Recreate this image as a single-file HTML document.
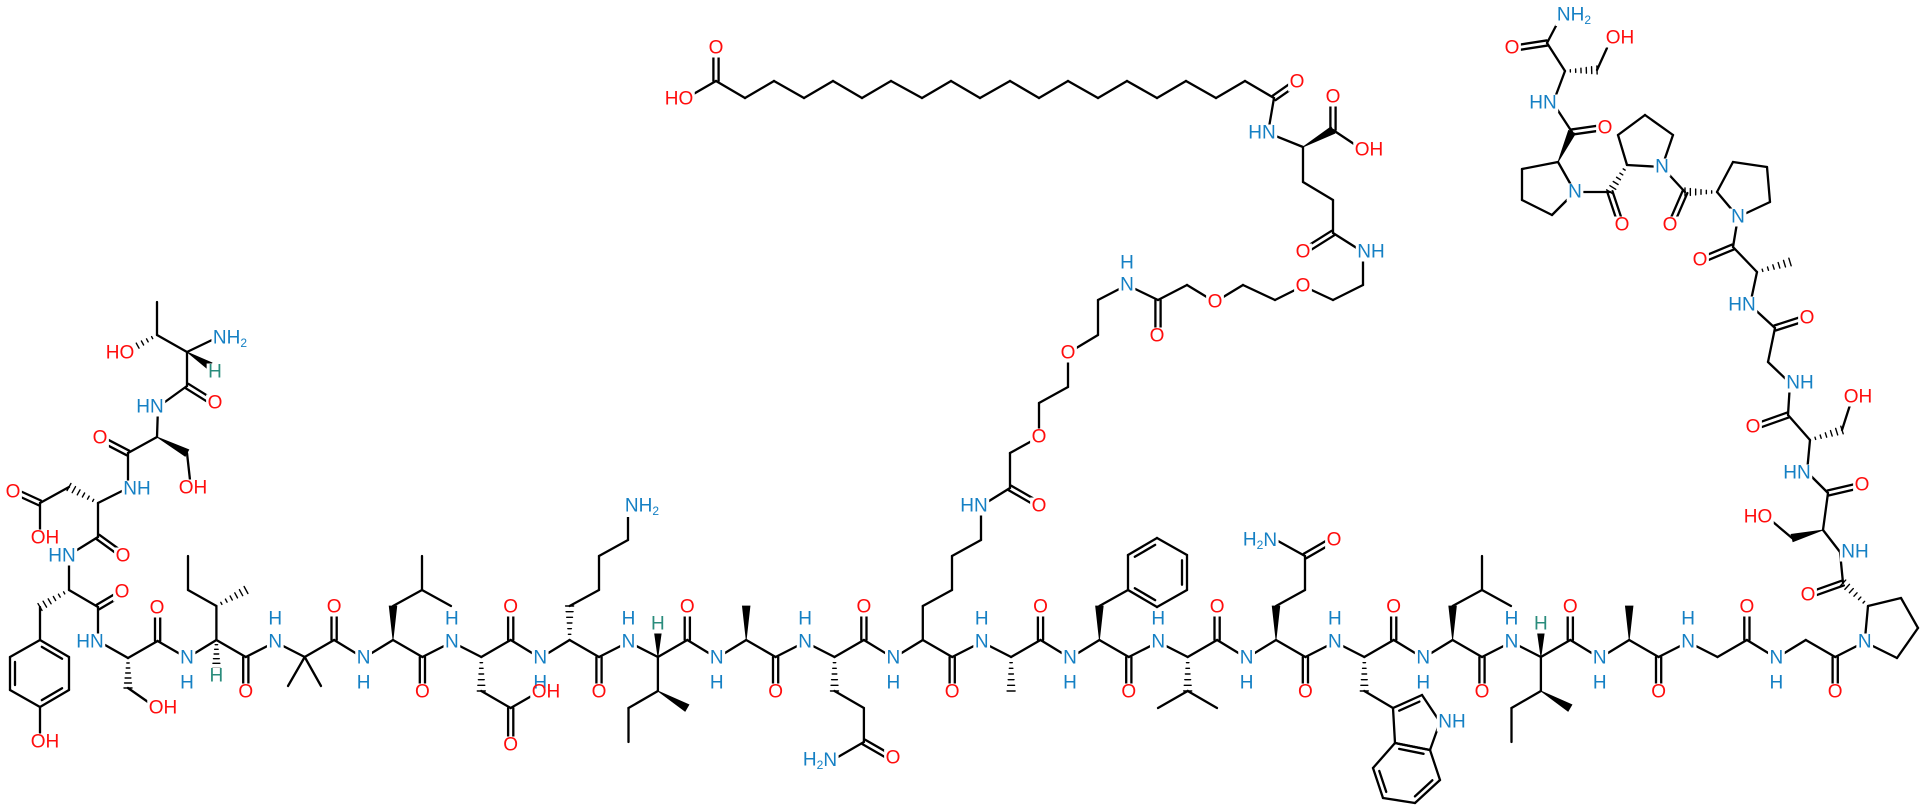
<!DOCTYPE html>
<html><head><meta charset="utf-8">
<style>
html,body{margin:0;padding:0;background:#fff;}
svg{display:block;}
text{font-family:"Liberation Sans",Arial,sans-serif;font-size:19px;text-anchor:middle;dominant-baseline:central;}
.n{fill:#1580c4}.o{fill:#ff0d0d}.h{fill:#2a8c7c}
.s{font-size:12px}
</style></head>
<body>
<svg id="svg" width="1920" height="810" viewBox="0 0 1920 810" xmlns="http://www.w3.org/2000/svg">
<g id="bonds" stroke="#000" stroke-width="2.3" stroke-linecap="round" fill="#000"></g>
<g id="masks" fill="#fff"></g>
<g id="labels">
<text class="n" x="187" y="658">N</text><text class="n" x="187" y="683">H</text>
<text class="n" x="275.3" y="642">N</text><text class="n" x="275.3" y="619">H</text>
<text class="n" x="363.6" y="658">N</text><text class="n" x="363.6" y="683">H</text>
<text class="n" x="451.9" y="642">N</text><text class="n" x="451.9" y="619">H</text>
<text class="n" x="540.2" y="658">N</text><text class="n" x="540.2" y="683">H</text>
<text class="n" x="628.5" y="642">N</text><text class="n" x="628.5" y="619">H</text>
<text class="n" x="716.8" y="658">N</text><text class="n" x="716.8" y="683">H</text>
<text class="n" x="805.1" y="642">N</text><text class="n" x="805.1" y="619">H</text>
<text class="n" x="893.4" y="658">N</text><text class="n" x="893.4" y="683">H</text>
<text class="n" x="981.7" y="642">N</text><text class="n" x="981.7" y="619">H</text>
<text class="n" x="1070" y="658">N</text><text class="n" x="1070" y="683">H</text>
<text class="n" x="1158.3" y="642">N</text><text class="n" x="1158.3" y="619">H</text>
<text class="n" x="1246.6" y="658">N</text><text class="n" x="1246.6" y="683">H</text>
<text class="n" x="1334.9" y="642">N</text><text class="n" x="1334.9" y="619">H</text>
<text class="n" x="1423.2" y="658">N</text><text class="n" x="1423.2" y="683">H</text>
<text class="n" x="1511.5" y="642">N</text><text class="n" x="1511.5" y="619">H</text>
<text class="n" x="1599.8" y="658">N</text><text class="n" x="1599.8" y="683">H</text>
<text class="n" x="1688.1" y="642">N</text><text class="n" x="1688.1" y="619">H</text>
<text class="n" x="1776.4" y="658">N</text><text class="n" x="1776.4" y="683">H</text>
<text class="n" x="1864.7" y="642">N</text>
<text class="o" x="245.8" y="692">O</text><text class="o" x="422.4" y="692">O</text><text class="o" x="599" y="692">O</text>
<text class="o" x="775.6" y="692">O</text><text class="o" x="952.2" y="692">O</text><text class="o" x="1128.8" y="692">O</text>
<text class="o" x="1305.4" y="692">O</text><text class="o" x="1482" y="692">O</text><text class="o" x="1658.6" y="692">O</text>
<text class="o" x="1835.2" y="692">O</text>
<text class="o" x="334.1" y="607">O</text><text class="o" x="510.7" y="607">O</text><text class="o" x="687.3" y="607">O</text>
<text class="o" x="863.9" y="607">O</text><text class="o" x="1040.5" y="607">O</text><text class="o" x="1217.1" y="607">O</text>
<text class="o" x="1393.7" y="607">O</text><text class="o" x="1570.3" y="607">O</text><text class="o" x="1746.9" y="607">O</text>
<text class="o" x="120" y="353">HO</text>
<text class="n" x="230" y="338">NH<tspan class="s" dy="5">2</tspan></text>
<text class="h" x="215" y="372">H</text>
<text class="o" x="215" y="403">O</text>
<text class="n" x="150" y="407">HN</text>
<text class="o" x="100" y="438">O</text>
<text class="o" x="193" y="488">OH</text>
<text class="n" x="137" y="489">NH</text>
<text class="o" x="13" y="492">O</text>
<text class="o" x="45" y="538">OH</text>
<text class="o" x="123" y="556">O</text>
<text class="n" x="62" y="556">HN</text>
<text class="o" x="122" y="592">O</text>
<text class="n" x="90" y="642">HN</text>
<text class="o" x="45" y="742">OH</text>
<text class="o" x="163" y="708">OH</text>
<text class="o" x="157" y="608">O</text>
<text class="h" x="216.4" y="676">H</text>
<text class="o" x="510.7" y="745">O</text>
<text class="o" x="546" y="692">OH</text>
<text class="n" x="642" y="506">NH<tspan class="s" dy="5">2</tspan></text>
<text class="h" x="657.9" y="624">H</text>
<text class="n" x="820" y="760">H<tspan class="s" dy="5">2</tspan><tspan dy="-5">N</tspan></text>
<text class="o" x="893" y="758">O</text>
<text class="n" x="974" y="506">HN</text>
<text class="o" x="1039" y="506">O</text>
<text class="o" x="1039" y="437">O</text>
<text class="o" x="1068" y="353">O</text>
<text class="n" x="1127" y="285">N</text><text class="n" x="1127" y="263">H</text>
<text class="o" x="1157" y="336">O</text>
<text class="o" x="1215" y="302">O</text>
<text class="o" x="1303" y="286">O</text>
<text class="n" x="1371" y="252">NH</text>
<text class="o" x="1303" y="252">O</text>
<text class="n" x="1262" y="133">HN</text>
<text class="o" x="1369" y="150">OH</text>
<text class="o" x="1333" y="97">O</text>
<text class="o" x="1297" y="82">O</text>
<text class="o" x="716" y="48">O</text>
<text class="o" x="679" y="99">HO</text>
<text class="n" x="1260" y="540">H<tspan class="s" dy="5">2</tspan><tspan dy="-5">N</tspan></text>
<text class="o" x="1334" y="540">O</text>
<text class="n" x="1452" y="722">NH</text>
<text class="h" x="1540.9" y="624">H</text>
<text class="n" x="1574" y="15">NH<tspan class="s" dy="5">2</tspan></text>
<text class="o" x="1512" y="48">O</text>
<text class="o" x="1620" y="38">OH</text>
<text class="n" x="1543" y="103">HN</text>
<text class="o" x="1605" y="128">O</text>
<text class="n" x="1575" y="192">N</text>
<text class="o" x="1622" y="225">O</text>
<text class="n" x="1662" y="167">N</text>
<text class="o" x="1670" y="225">O</text>
<text class="n" x="1738" y="217">N</text>
<text class="o" x="1700" y="260">O</text>
<text class="n" x="1742" y="305">HN</text>
<text class="o" x="1807" y="318">O</text>
<text class="n" x="1800" y="383">NH</text>
<text class="o" x="1753" y="427">O</text>
<text class="o" x="1858" y="397">OH</text>
<text class="n" x="1797" y="473">HN</text>
<text class="o" x="1862" y="485">O</text>
<text class="o" x="1758" y="517">HO</text>
<text class="n" x="1855" y="552">NH</text>
<text class="o" x="1808" y="595">O</text>
</g>
</svg>
<script>
(function(){
var out=[];
function s(a,b,c,d){out.push('<line x1="'+a+'" y1="'+b+'" x2="'+c+'" y2="'+d+'"/>');}
function pl(p){for(var i=0;i<p.length-1;i++)s(p[i][0],p[i][1],p[i+1][0],p[i+1][1]);}
function dbl(a,b,c,d){var dx=c-a,dy=d-b,l=Math.hypot(dx,dy),nx=-dy/l*2.6,ny=dx/l*2.6;s(a+nx,b+ny,c+nx,d+ny);s(a-nx,b-ny,c-nx,d-ny);}
function din(a,b,c,d,cx,cy){var mx=(a+c)/2,my=(b+d)/2,vx=cx-mx,vy=cy-my,l=Math.hypot(vx,vy);var ox=vx/l*5,oy=vy/l*5;var f=0.15;
 s(a+(c-a)*f+ox,b+(d-b)*f+oy,c-(c-a)*f+ox,d-(d-b)*f+oy);}
function ring(p,dbls){var n=p.length,cx=0,cy=0;p.forEach(function(q){cx+=q[0];cy+=q[1];});cx/=n;cy/=n;
 for(var i=0;i<n;i++){var q=p[i],r=p[(i+1)%n];s(q[0],q[1],r[0],r[1]);}
 (dbls||[]).forEach(function(i){var q=p[i],r=p[(i+1)%n];din(q[0],q[1],r[0],r[1],cx,cy);});}
function w(a,b,c,d){var dx=c-a,dy=d-b,l=Math.hypot(dx,dy),nx=-dy/l*3.8,ny=dx/l*3.8;
 out.push('<polygon stroke-width="0.8" points="'+a+','+b+' '+(c+nx)+','+(d+ny)+' '+(c-nx)+','+(d-ny)+'"/>');}
function h(a,b,c,d){var dx=c-a,dy=d-b,l=Math.hypot(dx,dy),nx=-dy/l,ny=dx/l;
 for(var i=0;i<7;i++){var t=i/6,x=a+dx*t,y=b+dy*t,hw=0.6+3.4*t;out.push('<line stroke-width="1.4" x1="'+(x+nx*hw)+'" y1="'+(y+ny*hw)+'" x2="'+(x-nx*hw)+'" y2="'+(y-ny*hw)+'"/>');}}
var pts=[[157.6,641]];
for(var k=0;k<19;k++){var N=187+88.3*k,e=k%2==0;var yN=e?658:642,yA=e?640:657,yC=e?657:640;
 pts.push([N,yN],[N+29.4,yA],[N+58.8,yC]);dbl(N+58.8,yC,N+58.8,e?684:614);}
pts.push([1864.7,642]);pl(pts);
s(157,302,157,335);h(157,335,128,351);s(157,335,187,352);s(187,352,212,340);w(187,352,210,366);
s(187,352,187,386);dbl(187,386,211,401);s(187,386,158,407);s(158,407,157,437);
w(157,437,187,453);s(187,453,190,480);s(157,437,128,453);dbl(128,453,103,440);s(128,453,128,488);
s(128,488,98,503);h(98,503,69,487);s(69,487,40,503);dbl(40,503,16,492);s(40,503,40,530);
s(98,503,98,537);dbl(98,537,120,553);s(98,537,69,555);s(69,555,69,590);
h(69,590,40,607);s(40,607,40,640);
ring([[40,640],[69,657],[69,690],[40,707],[10,690],[10,657]],[0,2,4]);
s(40,707,40,733);
s(69,590,98,607);dbl(98,607,120,594);s(98,607,98,641);s(98,641,128,658);
h(128,658,128,688);s(128,688,148,702);s(128,658,157.6,641);dbl(157.6,641,157.6,614);
s(216.4,640,216.4,606);h(216.4,606,246,590);s(216.4,606,188,590);s(188,590,188,556);h(216.4,640,216.4,668);
s(304.7,657,288,686);s(304.7,657,321,686);
w(393,640,393,606);s(393,606,422,590);s(422,590,422,556);s(422,590,451,606);
h(481.3,657,481.3,691);s(481.3,691,510.7,708);dbl(510.7,708,510.7,738);s(510.7,708,535,694);
h(569.6,640,569.6,606);pl([[569.6,606],[599,590],[599,556],[628,540],[628,514]]);
w(657.9,657,657.9,630);s(657.9,657,657.9,691);w(657.9,691,687,708);s(657.9,691,628.5,708);s(628.5,708,628.5,742);
w(746.2,640,746.2,606);
h(834.5,657,834.5,691);pl([[834.5,691],[863.9,708],[863.9,742],[838,757]]);dbl(863.9,742,890,757);
s(922.8,640,922.8,606);pl([[922.8,606],[952,590],[952,556],[981,540],[981,506],[1010,488]]);dbl(1010,488,1036,503);
pl([[1010,488],[1010,453],[1039,437],[1039,403],[1068,387],[1068,353],[1098,335],[1098,300],[1127,285],[1158,300]]);
dbl(1158,300,1158,332);
pl([[1158,300],[1187,285],[1215,302],[1243,285],[1275,300],[1303,286],[1333,300],[1363,285],[1363,252],[1333,233]]);
dbl(1333,233,1306,250);pl([[1333,233],[1333,200],[1303,182],[1303,147],[1268,133],[1274,98]]);
w(1303,147,1333,130);dbl(1333,130,1333,100);s(1333,130,1360,148);dbl(1274,98,1294,84);
var fx=[1274,1245,1216,1186,1157,1127,1098,1068,1039,1010,980,951,922,891,862,833,804,774,745,716],fp=[];
for(var i=0;i<fx.length;i++)fp.push([fx[i],i%2==0?98:81]);pl(fp);
dbl(716,81,716,52);s(716,81,690,96);
h(1011.1,657,1011.1,691);
w(1099.4,640,1099.4,606);s(1099.4,606,1128,590);
ring([[1128,590],[1128,555],[1157,538],[1187,555],[1187,590],[1157,607]],[1,3,5]);
h(1187.7,657,1187.7,691);s(1187.7,691,1158,708);s(1187.7,691,1217,708);
w(1276,640,1276,606);pl([[1276,606],[1305,590],[1305,556],[1278,541]]);dbl(1305,556,1331,541);
h(1364.3,657,1364.3,691);s(1364.3,691,1393,708);
ring([[1393,708],[1422,695],[1440,722],[1430,750],[1395,743]],[0]);
ring([[1395,743],[1430,750],[1440,780],[1415,803],[1383,798],[1373,768]],[0,2,4]);
w(1452.6,640,1452.6,606);s(1452.6,606,1482,590);s(1482,590,1482,556);s(1482,590,1511,606);
w(1540.9,657,1540.9,630);s(1540.9,657,1540.9,691);w(1540.9,691,1570,708);s(1540.9,691,1511.5,708);s(1511.5,708,1511.5,742);
w(1629.2,640,1629.2,606);
ring([[1864.7,642],[1868,606],[1901,598],[1918,628],[1897,658]]);
h(1868,606,1843,583);dbl(1843,583,1812,594);s(1843,583,1840,552);s(1840,552,1823,530);
w(1823,530,1792,538);s(1792,538,1773,522);s(1823,530,1828,493);dbl(1828,493,1858,486);s(1828,493,1807,472);
s(1807,472,1810,440);h(1810,440,1842,430);s(1842,430,1850,405);s(1810,440,1788,415);dbl(1788,415,1757,426);
s(1788,415,1790,383);s(1790,383,1768,362);s(1768,362,1775,328);dbl(1775,328,1803,319);s(1775,328,1750,305);
s(1750,305,1757,272);h(1757,272,1790,262);s(1757,272,1733,247);dbl(1733,247,1704,259);s(1733,247,1738,217);
ring([[1738,217],[1717,192],[1733,162],[1767,167],[1770,202]]);
h(1717,192,1685,192);dbl(1685,192,1672,222);s(1685,192,1662,167);
ring([[1662,167],[1627,165],[1618,135],[1645,115],[1673,135]]);
h(1627,165,1610,192);dbl(1610,192,1620,222);s(1610,192,1575,192);
ring([[1575,192],[1558,162],[1522,169],[1522,200],[1552,215]]);
w(1558,162,1572,132);dbl(1572,132,1600,128);s(1572,132,1553,103);
s(1553,103,1565,71);h(1565,71,1597,70);s(1597,70,1607,48);s(1565,71,1547,43);dbl(1547,43,1515,48);s(1547,43,1558,22);
document.getElementById('bonds').innerHTML=out.join('');
var m=[];var ts=document.querySelectorAll('#labels text');
for(var j=0;j<ts.length;j++){var b=ts[j].getBBox();m.push('<rect x="'+(b.x-1.5)+'" y="'+(b.y+2)+'" width="'+(b.width+3)+'" height="'+(b.height-3)+'"/>');}
document.getElementById('masks').innerHTML=m.join('');
})();
</script>
</body></html>
